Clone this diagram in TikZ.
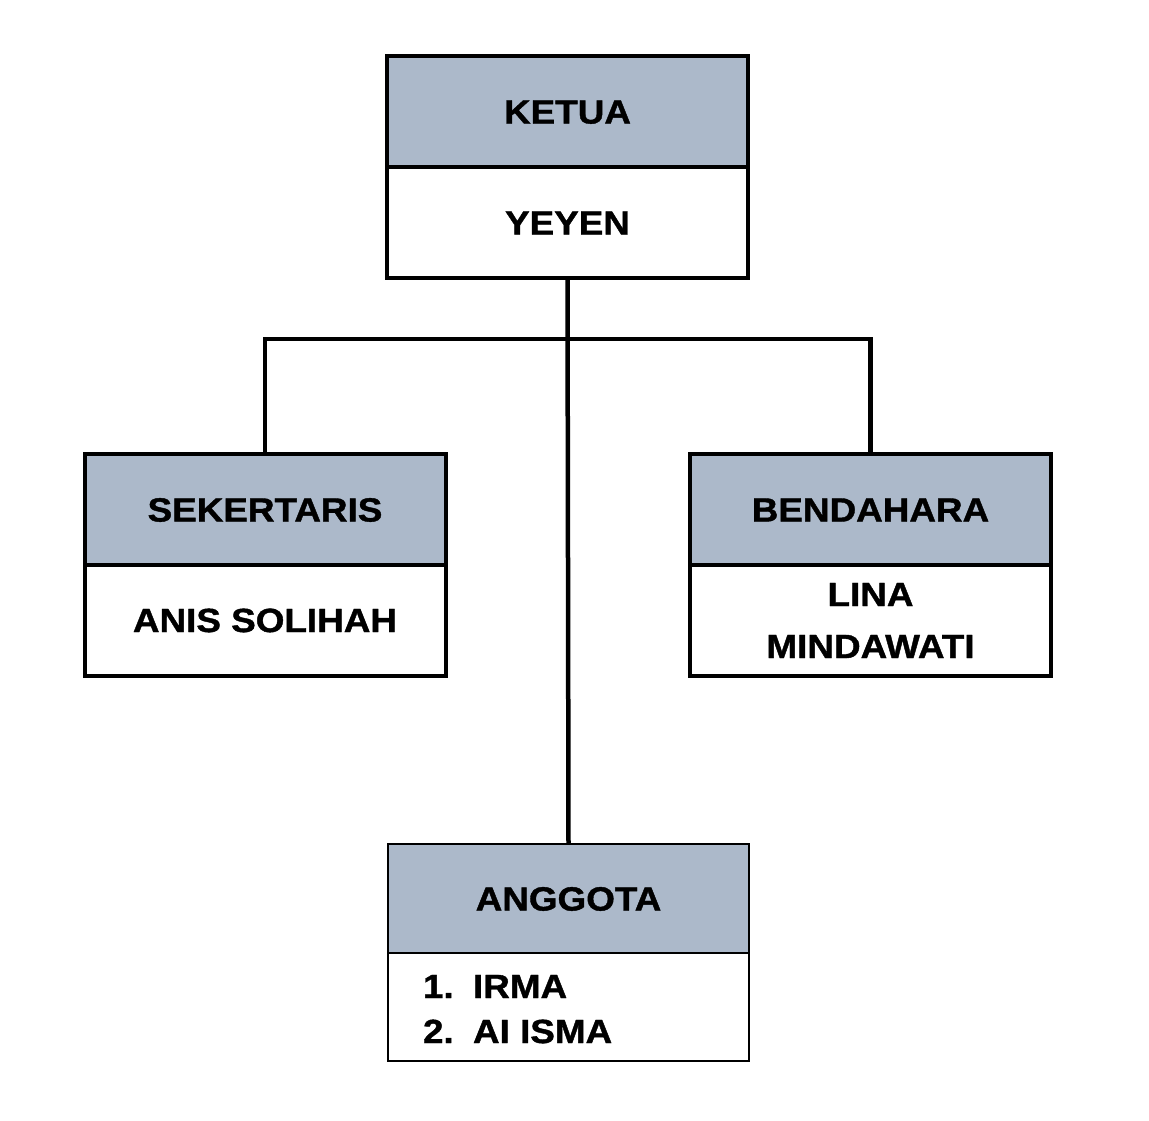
\documentclass[tikz,border=0pt]{standalone}
\usepackage{fontspec}
\setmainfont{Liberation Sans}[FakeStretch=1.1,BoldFeatures={FakeBold=1.2}]
\definecolor{hdr}{HTML}{ACB9CA}
\begin{document}
\begin{tikzpicture}[x=1pt,y=-1pt,
  every node/.style={inner sep=0pt,outer sep=0pt},
  txt/.style={font=\fontsize{33.5}{52}\selectfont\bfseries},
  hbox/.style={draw=black,line width=4pt,fill=hdr,minimum width=361pt,minimum height=111pt,txt,text height=24pt,text depth=0pt},
  bbox/.style={draw=black,line width=4pt,fill=white,minimum width=361pt,minimum height=111pt},
  thinh/.style={hbox,line width=1.5pt,minimum height=109pt},
  thinb/.style={bbox,line width=1.5pt,minimum height=108pt},
  conn/.style={draw=black,line width=4.5pt}]
\useasboundingbox (0,0) rectangle (1149,1120);
% KETUA
\node[bbox] (ketB) at (567.5,222.5) {};
\node[hbox] (ketH) at (567.5,111.5) {KETUA};
\node[txt,text height=24pt,text depth=0pt] (ketN) at (ketB.center) {YEYEN};
% SEKERTARIS
\node[bbox] (sekB) at (265,620) {};
\node[hbox] (sekH) at (265,509.5) {SEKERTARIS};
\node[txt,text height=24pt,text depth=0pt] (sekN) at (sekB.center) {ANIS SOLIHAH};
% BENDAHARA
\node[bbox] (benB) at (870.5,620) {};
\node[hbox] (benH) at (870.5,509.5) {BENDAHARA};
\node[txt,anchor=base] (benN1) at (870.5,606) {LINA};
\node[txt,anchor=base] (benN2) at (870.5,658) {MINDAWATI};
% ANGGOTA
\node[thinb] (angB) at (568.5,1007) {};
\node[thinh] (angH) at (568.5,898.5) {ANGGOTA};
\node[txt,anchor=base west] (a1n) at (423,998) {1.};
\node[txt,anchor=base west] (a1) at (473,998) {IRMA};
\node[txt,anchor=base west] (a2n) at (423,1043) {2.};
\node[txt,anchor=base west] (a2) at (473,1043) {AI ISMA};
% connectors
\coordinate (bus) at (568,339);
\draw[conn] (ketB.south) -- (angH.north);
\draw[conn] (sekH.north) |- (bus) -| (benH.north);
\end{tikzpicture}
\end{document}
